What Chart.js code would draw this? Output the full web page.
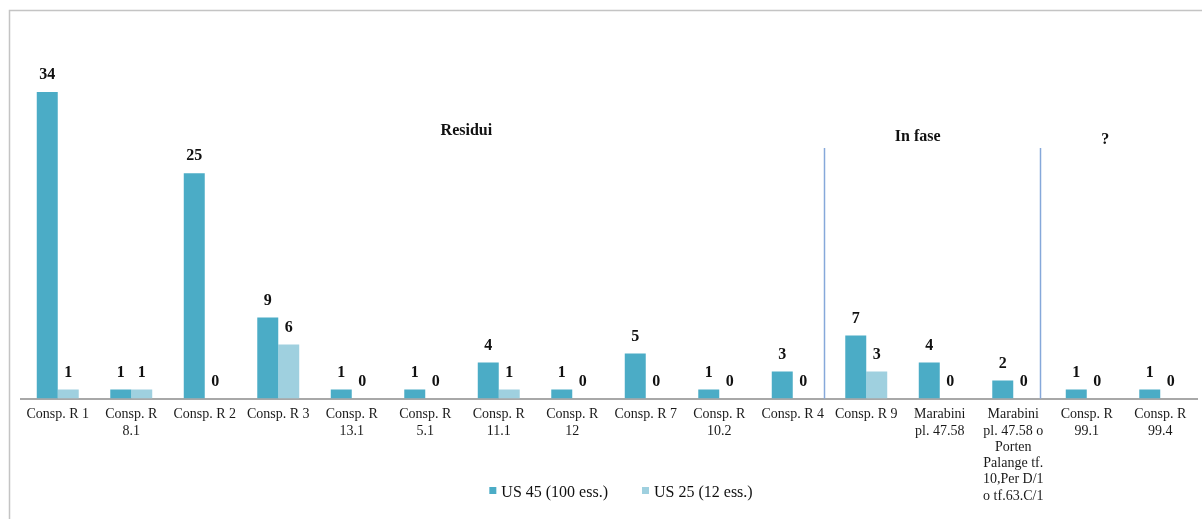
<!DOCTYPE html>
<html lang="it">
<head>
  <meta charset="utf-8" />
  <title>Consp. R – US 45 / US 25</title>
  <script src="https://cdn.jsdelivr.net/npm/chart.js@4/dist/chart.umd.min.js"></script>
  <style>
    html, body { margin: 0; padding: 0; background: #fff; }
    #chart { display: block; }
  </style>
</head>
<body>
  <canvas id="chart" width="1202" height="519"></canvas>

  <script>
    // dati
    const categories = [
      'Consp. R 1', ['Consp. R', '8.1'], 'Consp. R 2', 'Consp. R 3',
      ['Consp. R', '13.1'], ['Consp. R', '5.1'], ['Consp. R', '11.1'], ['Consp. R', '12'],
      'Consp. R 7', ['Consp. R', '10.2'], 'Consp. R 4', 'Consp. R 9',
      ['Marabini', 'pl. 47.58'],
      ['Marabini', 'pl. 47.58 o', 'Porten', 'Palange tf.', '10,Per D/1', 'o tf.63.C/1'],
      ['Consp. R', '99.1'], ['Consp. R', '99.4']
    ];
    const us45 = [34, 1, 25, 9, 1, 1, 4, 1, 5, 1, 3, 7, 4, 2, 1, 1];
    const us25 = [1, 1, 0, 6, 0, 0, 1, 0, 0, 0, 0, 3, 0, 0, 0, 0];
    const seriesNames = ['US 45 (100 ess.)', 'US 25 (12 ess.)'];

    // gruppi: titolo e posizione (in unità di categoria)
    const groupTitles = ['Residui', 'In fase', '?'];
    const groupTitleAt = [5.56, 11.7, 14.25];
    const separatorsAt = [10.43, 13.36];

    const DARK = '#4BACC6';
    const LIGHT = '#9FD0DF';
    const SERIF = '"Liberation Serif", "Times New Roman", serif';

    // cornice, etichette valori, titoli gruppi, separatori, legenda
    const decorations = {
      id: 'decorations',
      beforeDraw(chart) {
        const ctx = chart.ctx;
        ctx.save();
        ctx.strokeStyle = '#c4c4c4';
        ctx.lineWidth = 1.5;
        ctx.strokeRect(9.5, 10.5, 1400, 700);
        ctx.restore();
      },
      afterDatasetsDraw(chart) {
        const ctx = chart.ctx;
        const x = chart.scales.x;
        const bottom = chart.chartArea.bottom;
        const step = x.getPixelForValue(1) - x.getPixelForValue(0);
        ctx.save();

        // separatori verticali
        ctx.strokeStyle = '#86A8DA';
        ctx.lineWidth = 1.5;
        separatorsAt.forEach(v => {
          const px = Math.round(x.getPixelForValue(0) + v * step) + 0.5;
          ctx.beginPath();
          ctx.moveTo(px, 148);
          ctx.lineTo(px, bottom);
          ctx.stroke();
        });

        // titoli dei gruppi
        ctx.fillStyle = '#111';
        ctx.font = 'bold 16px ' + SERIF;
        ctx.textAlign = 'center';
        ctx.textBaseline = 'middle';
        const tY = [131, 137, 140];
        groupTitles.forEach((t, i) => {
          ctx.fillText(t, x.getPixelForValue(0) + groupTitleAt[i] * step, tY[i]);
        });

        // etichette dei valori
        ctx.font = 'bold 16px ' + SERIF;
        chart.data.datasets.forEach((ds, di) => {
          const meta = chart.getDatasetMeta(di);
          meta.data.forEach((bar, i) => {
            ctx.fillText(String(ds.data[i]), bar.x, bar.y - 17);
          });
        });

        // legenda
        ctx.font = '16px ' + SERIF;
        ctx.textAlign = 'left';
        const legY = 493;
        const items = chart.data.datasets.map(ds => ({ text: ds.label, color: ds.backgroundColor }));
        const gap = 34, box = 7, boxGap = 5;
        const widths = items.map(it => box + boxGap + ctx.measureText(it.text).width);
        const total = widths.reduce((a, b) => a + b, 0) + gap * (items.length - 1);
        let lx = 621 - total / 2;
        items.forEach((it, i) => {
          ctx.fillStyle = it.color;
          ctx.fillRect(lx, legY - 6, box, box);
          ctx.fillStyle = '#111';
          ctx.fillText(it.text, lx + box + boxGap, legY);
          lx += widths[i] + gap;
        });

        ctx.restore();
      }
    };

    new Chart(document.getElementById('chart'), {
      type: 'bar',
      data: {
        labels: categories,
        datasets: [
          { label: seriesNames[0], data: us45, backgroundColor: DARK },
          { label: seriesNames[1], data: us25, backgroundColor: LIGHT }
        ]
      },
      options: {
        responsive: false,
        animation: false,
        devicePixelRatio: 1,
        categoryPercentage: 0.571,
        barPercentage: 1,
        layout: { padding: { left: 21, right: 5, top: 56, bottom: 7 } },
        plugins: {
          legend: { display: false },
          tooltip: { enabled: false }
        },
        scales: {
          y: { display: false, min: 0, max: 38 },
          x: {
            grid: { display: false, drawTicks: false },
            border: { display: true, color: '#a8a8a8', width: 2 },
            ticks: {
              autoSkip: false,
              maxRotation: 0,
              padding: 8,
              color: '#1a1a1a',
              font: { family: SERIF, size: 14, lineHeight: 1.16 }
            }
          }
        }
      },
      plugins: [decorations]
    });
  </script>
</body>
</html>
